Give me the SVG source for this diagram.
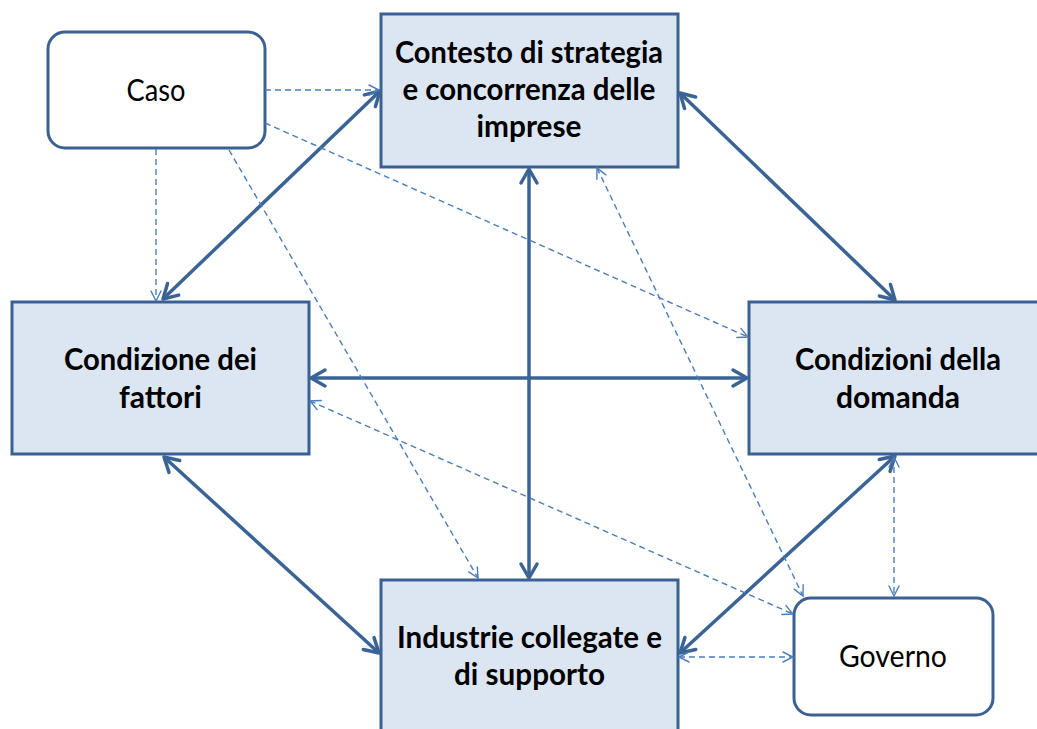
<svg xmlns="http://www.w3.org/2000/svg" width="1037" height="729" viewBox="0 0 1037 729">
<defs>
<style>
.box{fill:#dce6f2;stroke:#3b6192;stroke-width:3}
.rnd{fill:#ffffff;stroke:#3b6192;stroke-width:3}
.bt{font-family:Lato,"Open Sans",sans-serif;font-weight:bold;font-size:30px;fill:#000;text-anchor:middle}
.rt{font-family:Lato,"Open Sans",sans-serif;font-size:30px;fill:#000;text-anchor:middle}
.thick{stroke:#3b6496;stroke-width:3.5;fill:none;marker-start:url(#ah);marker-end:url(#ah)}
.dash{stroke:#4a7ebb;stroke-width:1.4;fill:none;stroke-dasharray:6 4}
.end{marker-end:url(#ad)}
.both{marker-start:url(#ad);marker-end:url(#ad)}
</style>
<marker id="ah" markerUnits="userSpaceOnUse" viewBox="-18 -11 20 22" markerWidth="20" markerHeight="22" refX="0" refY="0" orient="auto-start-reverse" overflow="visible">
<path d="M-14,-8 L0,0 L-14,8" fill="none" stroke="#3b6496" stroke-width="3.5" stroke-linecap="round" stroke-linejoin="round"/>
</marker>
<marker id="ad" markerUnits="userSpaceOnUse" viewBox="-12 -7 14 14" markerWidth="14" markerHeight="14" refX="0" refY="0" orient="auto-start-reverse" overflow="visible">
<path d="M-10,-5 L0,0 L-10,5" fill="none" stroke="#4a7ebb" stroke-width="1.4" stroke-linecap="round"/>
</marker>
</defs>

<g id="caso">
<rect class="rnd" x="48" y="32" width="217" height="116" rx="17"/>
<text class="rt" x="156" y="101" textLength="59" lengthAdjust="spacingAndGlyphs">Caso</text>
</g>

<g id="contesto">
<rect class="box" x="381" y="14" width="297" height="153"/>
<text class="bt" x="529" y="63" textLength="268" lengthAdjust="spacingAndGlyphs">Contesto di strategia</text>
<text class="bt" x="529" y="100" textLength="253" lengthAdjust="spacingAndGlyphs">e concorrenza delle</text>
<text class="bt" x="529" y="137" textLength="105" lengthAdjust="spacingAndGlyphs">imprese</text>
</g>

<g id="fattori">
<rect class="box" x="12" y="302" width="297" height="152"/>
<text class="bt" x="160.5" y="370" textLength="193" lengthAdjust="spacingAndGlyphs">Condizione dei</text>
<text class="bt" x="160.5" y="408" textLength="83" lengthAdjust="spacingAndGlyphs">fattori</text>
</g>

<g id="domanda">
<rect class="box" x="749" y="302" width="300" height="152"/>
<text class="bt" x="898" y="370" textLength="206" lengthAdjust="spacingAndGlyphs">Condizioni della</text>
<text class="bt" x="898" y="408" textLength="124" lengthAdjust="spacingAndGlyphs">domanda</text>
</g>

<g id="industrie">
<rect class="box" x="381" y="580" width="297" height="160"/>
<text class="bt" x="529.5" y="648" textLength="265" lengthAdjust="spacingAndGlyphs">Industrie collegate e</text>
<text class="bt" x="529.5" y="685" textLength="151" lengthAdjust="spacingAndGlyphs">di supporto</text>
</g>

<g id="governo">
<rect class="rnd" x="794" y="598" width="199" height="117" rx="17"/>
<text class="rt" x="893" y="667" textLength="108" lengthAdjust="spacingAndGlyphs">Governo</text>
</g>

<g id="connectors">
<line class="thick" x1="163" y1="299" x2="380" y2="91"/>
<line class="thick" x1="680" y1="93" x2="895" y2="300"/>
<line class="thick" x1="529" y1="169" x2="529" y2="578"/>
<line class="thick" x1="311" y1="378" x2="747" y2="378"/>
<line class="thick" x1="164" y1="457" x2="379" y2="653"/>
<line class="thick" x1="895" y1="456" x2="680" y2="653"/>

<line class="dash end" x1="265" y1="90" x2="379" y2="90"/>
<line class="dash end" x1="156" y1="149" x2="156" y2="301"/>
<line class="dash end" x1="265" y1="123" x2="748" y2="337"/>
<line class="dash end" x1="229" y1="150" x2="478" y2="578"/>
<line class="dash both" x1="597" y1="168" x2="803" y2="596"/>
<line class="dash both" x1="310" y1="401" x2="793" y2="614"/>
<line class="dash both" x1="894" y1="457" x2="894" y2="596"/>
<line class="dash both" x1="679" y1="657" x2="793" y2="657"/>
</g>
</svg>
